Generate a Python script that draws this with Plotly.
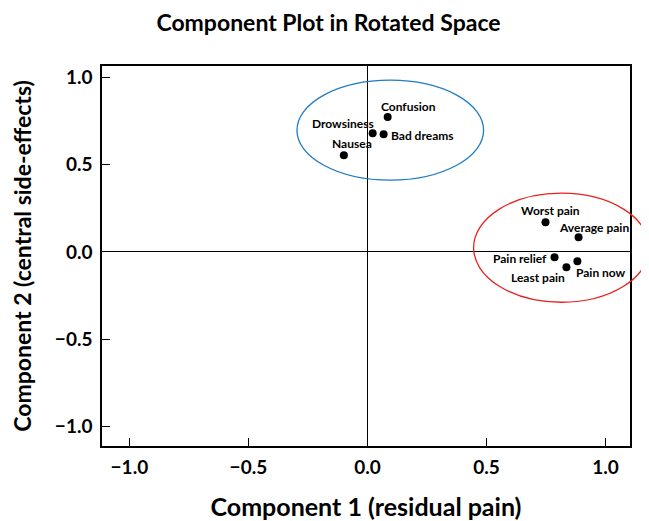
import plotly.graph_objects as go

# ---- data ----
labels = ["Confusion", "Drowsiness", "Bad dreams", "Nausea",
          "Worst pain", "Average pain", "Pain relief", "Least pain", "Pain now"]
comp1 = [0.085, 0.022, 0.068, -0.099, 0.748, 0.887, 0.786, 0.836, 0.882]
comp2 = [0.771, 0.679, 0.673, 0.553, 0.170, 0.084, -0.030, -0.088, -0.053]

tick_vals = [-1.0, -0.5, 0.0, 0.5, 1.0]

# cluster ellipses (data coordinates: x0, x1, y0, y1)
side_effects_ellipse = [-0.296, 0.488, 0.410, 0.982]
pain_ellipse = [0.446, 1.184, -0.288, 0.336]

# ---- styling ----
XR = [-1.115, 1.103]
YR = [-1.11, 1.063]
FONT = "Lato, 'Open Sans', sans-serif"
W, H = 641, 513  # page body adds an 8px offset inside the 649x521 window

# label placement (pixel offsets of the label relative to its point, anchors)
label_style = {
    "Confusion":    dict(xshift=21, yshift=11, xanchor="center"),
    "Drowsiness":   dict(xshift=-30, yshift=10, xanchor="center"),
    "Bad dreams":   dict(xshift=5, yshift=-1, xanchor="left"),
    "Nausea":       dict(xshift=8, yshift=12, xanchor="center"),
    "Worst pain":   dict(xshift=5, yshift=12, xanchor="center"),
    "Average pain": dict(xshift=15, yshift=10, xanchor="center"),
    "Pain relief":  dict(xshift=-6, yshift=-1, xanchor="right"),
    "Least pain":   dict(xshift=-28, yshift=-10, xanchor="center"),
    "Pain now":     dict(xshift=24, yshift=-11, xanchor="center"),
}

fig = go.Figure()
fig.add_trace(go.Scatter(
    x=comp1, y=comp2, mode="markers",
    marker=dict(color="black", size=8),
    hovertext=labels, showlegend=False,
))

annotations = []
for lab, xv, yv in zip(labels, comp1, comp2):
    st = label_style[lab]
    annotations.append(dict(
        x=xv, y=yv, xref="x", yref="y", text=lab, showarrow=False,
        xanchor=st["xanchor"], yanchor="middle",
        xshift=st["xshift"], yshift=st["yshift"],
        font=dict(family=FONT, size=12, color="black", weight="bold"),
    ))


def to_paper_x(v):
    return (v - XR[0]) / (XR[1] - XR[0])


def to_paper_y(v):
    return (v - YR[0]) / (YR[1] - YR[0])


shapes = []
for ell, col in [(side_effects_ellipse, "#1f7bc4"), (pain_ellipse, "#e8201e")]:
    shapes.append(dict(
        type="circle", xref="paper", yref="paper",
        x0=to_paper_x(ell[0]), x1=to_paper_x(ell[1]),
        y0=to_paper_y(ell[2]), y1=to_paper_y(ell[3]),
        line=dict(color=col, width=1.3),
    ))

axis_common = dict(
    tickvals=tick_vals, tickformat=".1f", automargin=False,
    ticks="inside", ticklen=8, tickwidth=1, tickcolor="black",
    showline=True, linecolor="black", linewidth=1.5, mirror=True,
    showgrid=False, zeroline=True, zerolinecolor="black", zerolinewidth=1.2,
    tickfont=dict(family=FONT, size=19, color="black", weight="bold"),
)

fig.update_layout(
    width=W, height=H,
    margin=dict(l=94, r=19, t=58, b=75, autoexpand=False),
    paper_bgcolor="white", plot_bgcolor="white",
    title=dict(text="Component Plot in Rotated Space", x=0.5, xanchor="center",
               y=1 - 15 / H, yanchor="middle", automargin=False,
               font=dict(family=FONT, size=23, color="black", weight="bold")),
    xaxis=dict(range=XR, ticklabelstandoff=3,
               title=dict(text="Component 1 (residual pain)", standoff=25,
                          font=dict(family=FONT, size=25, color="black", weight="bold")),
               **axis_common),
    yaxis=dict(range=YR, ticklabelstandoff=4,
               title=dict(text="Component 2 (central side-effects)", standoff=20,
                          font=dict(family=FONT, size=23, color="black", weight="bold")),
               **axis_common),
    annotations=annotations,
    shapes=shapes,
)

fig.write_html("out.html")
